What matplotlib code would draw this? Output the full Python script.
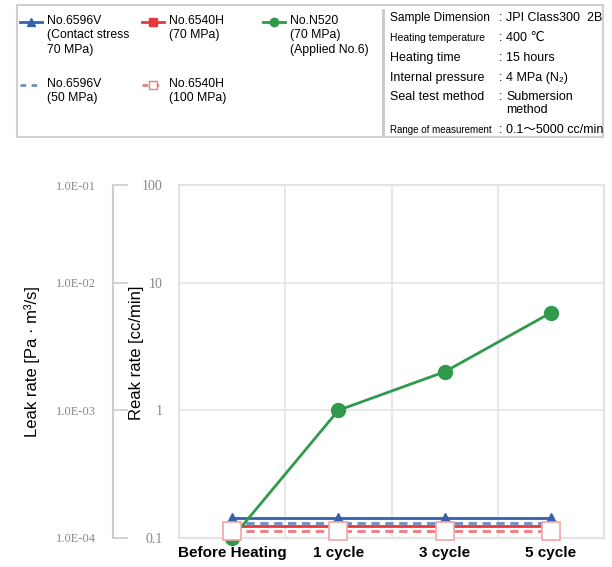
import numpy as np
import matplotlib.pyplot as plt
from matplotlib.lines import Line2D
from matplotlib.patches import Rectangle

plt.rcParams['font.family'] = ['Liberation Sans', 'DejaVu Sans', 'Noto Sans CJK JP']

# Datos
categories = ['Before Heating', '1 cycle', '3 cycle', '5 cycle']
v6596_70 = [0.144, 0.144, 0.144, 0.144]
v6596_50 = [0.132, 0.132, 0.132, 0.132]
h6540_70 = [0.124, 0.124, 0.124, 0.124]
h6540_100 = [0.114, 0.114, 0.114, 0.114]
n520_70 = [0.1, 1.0, 2.0, 5.8]

rate_ticks = [0.1, 1, 10, 100]
rate_labels = ['0.1', '1', '10', '100']
leak_labels = ['1.0E-04', '1.0E-03', '1.0E-02', '1.0E-01']

legend_labels = [
    'No.6596V\n(Contact stress\n70 MPa)',
    'No.6540H\n(70 MPa)',
    'No.N520\n(70 MPa)\n(Applied No.6)',
    'No.6596V\n(50 MPa)',
    'No.6540H\n(100 MPa)',
]
info_keys = ['Sample Dimension', 'Heating temperature', 'Heating time',
             'Internal pressure', 'Seal test method', 'Range of measurement']
info_vals = ['JPI Class300  2B', '400 ℃', '15 hours', '4 MPa (N₂)',
             'Submersion\nmethod', '0.1～5000 cc/min']

blue = '#3461aa'
blue_d = '#6d8cc4'
red = '#e23a3a'
red_d = '#ee7a7a'
green = '#2f9a4c'

# escala log con la decada superior comprimida
K = 97 / 127


def fwd(y):
    t = np.log10(np.maximum(y, 1e-12))
    return np.where(t > 1, 1 + (t - 1) * K, t)


def inv(u):
    u = np.asarray(u, dtype=float)
    return np.where(u > 1, 10 ** (1 + (u - 1) / K), 10 ** u)


W, H = 612, 567
fig = plt.figure(figsize=(W / 100, H / 100), dpi=100)

L, R, T, B = 179, 604, 185, 538
ax = fig.add_axes([L / W, 1 - B / H, (R - L) / W, (B - T) / H])
ax.set_yscale('function', functions=(fwd, inv))
ax.set_ylim(0.1, 100)
ax.set_xlim(-0.5, 3.5)
x = np.arange(len(categories))

ax.plot(x, h6540_70, color=red, lw=2, marker='s', ms=7, mfc=red, mec=red, zorder=3, clip_on=False)
ax.plot(x, h6540_100, color=red_d, lw=2, ls=(0, (3, 2)), zorder=3, clip_on=False)
ax.plot(x, v6596_70, color=blue, lw=2, marker='^', ms=7, mfc=blue, mec=blue, zorder=3, clip_on=False)
ax.plot(x, v6596_50, color=blue_d, lw=2, ls=(0, (3, 2)), zorder=3, clip_on=False)
ax.plot(x, n520_70, color=green, lw=2, marker='o', ms=10, mfc=green, mec=green, zorder=4, clip_on=False)
ax.plot(x, h6540_100, ls='none', marker='s', ms=13, mfc='white', mec='#f2a5a5', mew=1.2,
        zorder=5, clip_on=False)

ax.set_xticks(x)
ax.set_xticklabels(categories, fontsize=11, fontweight='bold')
ax.set_xticks(np.arange(-0.5, 3.6, 0.5), minor=True)
ax.tick_params(axis='x', which='both', length=0, pad=6)
ax.grid(axis='x', which='minor', color='#e8e8e8', lw=1.5)
ax.set_yticks(rate_ticks)
ax.set_yticklabels(rate_labels, fontsize=10, color='#888888', family='Liberation Serif')
ax.yaxis.set_minor_locator(plt.NullLocator())
ax.tick_params(axis='y', length=0, pad=12)
ax.grid(axis='y', which='major', color='#e8e8e8', lw=1.5)
for s in ax.spines.values():
    s.set_color('#e3e3e3')
    s.set_linewidth(1.5)

# eje izquierdo de Pa m3/s (misma escala, sin compartir formateador)
axl = fig.add_axes(ax.get_position())
axl.set_yscale('function', functions=(fwd, inv))
axl.set_ylim(0.1, 100)
axl.patch.set_visible(False)
for k in ['top', 'right', 'bottom']:
    axl.spines[k].set_visible(False)
axl.spines['left'].set_position(('axes', (113 - L) / (R - L)))
axl.spines['left'].set_color('#cccccc')
axl.spines['left'].set_linewidth(1.5)
axl.set_xticks([])
axl.set_yticks(rate_ticks)
axl.set_yticklabels(leak_labels, fontsize=9, color='#888888', family='Liberation Serif')
axl.yaxis.set_minor_locator(plt.NullLocator())
axl.tick_params(axis='y', direction='in', length=11, width=1.2, color='#cccccc', pad=12)

fig.text(32 / W, 1 - 362 / H, 'Leak rate [Pa · m³/s]', rotation=90, fontsize=12,
         ha='center', va='center')
fig.text(137 / W, 1 - 353 / H, 'Reak rate [cc/min]', rotation=90, fontsize=12,
         ha='center', va='center')

# leyenda y recuadro de condiciones (coordenadas en pixeles)
ov = fig.add_axes([0, 0, 1, 1], zorder=-1)
ov.set_xlim(0, W)
ov.set_ylim(H, 0)
ov.axis('off')
ov.add_patch(Rectangle((17, 5), 586, 132, fill=False, ec='#d0d0d0', lw=1.5))
ov.plot([383, 383], [10, 134], color='#c8c8c8', lw=2)

handles = [
    dict(color=blue, ls='-', marker='^', mfc=blue, mec=blue),
    dict(color=red, ls='-', marker='s', mfc=red, mec=red),
    dict(color=green, ls='-', marker='o', mfc=green, mec=green),
    dict(color=blue_d, ls=(0, (2, 2)), marker='none'),
    dict(color=red_d, ls=(0, (2, 2)), marker='s', mfc='white', mec=red_d),
]
spots = [(20, 22), (142, 22), (263, 22), (20, 85), (142, 85)]
for (hx, hy), lab, st in zip(spots, legend_labels, handles):
    ov.add_line(Line2D([hx, hx + 11, hx + 22], [hy, hy, hy], lw=2, ms=6,
                       markevery=[1], **st))
    ov.text(hx + 27, hy - 7, lab, fontsize=8.8, va='top', ha='left', linespacing=1.25)

key_sizes = [8.6, 7.5, 9, 9, 9, 7]
row_y = [18, 38, 58, 78, 97, 130]
for k, v, fs, yy in zip(info_keys, info_vals, key_sizes, row_y):
    ov.text(390, yy, k, fontsize=fs, va='center', ha='left')
    ov.text(499, yy, ':', fontsize=9, va='center', ha='left')
    ov.text(506, yy - 6, v, fontsize=9, va='top', ha='left', linespacing=1.15)

fig.savefig('out.png', dpi=100)
